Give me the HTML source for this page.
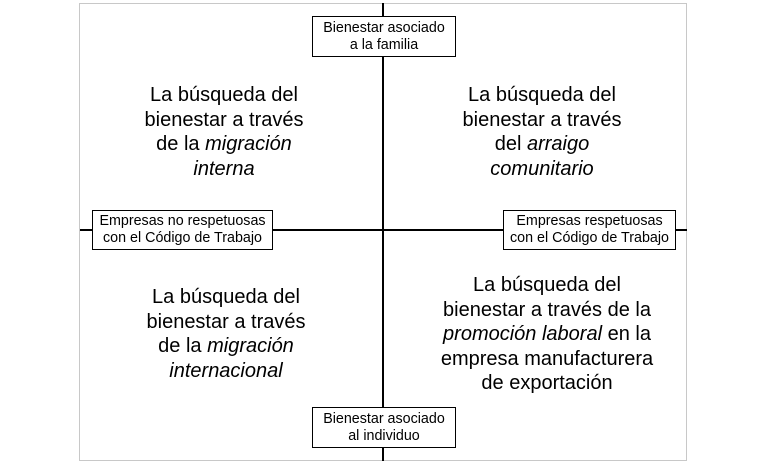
<!DOCTYPE html>
<html><head><meta charset="utf-8"><style>
body{margin:0;width:768px;height:464px;background:#fff;position:relative;overflow:hidden;font-family:"Liberation Sans",Arial,sans-serif;color:#000}
.a{position:absolute}
.box{position:absolute;border:1.5px solid #000;background:#fff;box-sizing:border-box;font-size:14.3px;line-height:17px;text-align:center;display:flex;align-items:center;justify-content:center;white-space:nowrap}
.t{position:absolute;font-size:20px;line-height:24.5px;text-align:center;width:260px;transform:translateX(-50%)}
</style></head><body>
<div class="a" style="left:79px;top:3px;width:608px;height:458px;border:1px solid #c8c8c8;box-sizing:border-box"></div>
<div class="a" style="left:382px;top:3px;width:2px;height:458px;background:#000"></div>
<div class="a" style="left:80px;top:229px;width:607px;height:1.5px;background:#000"></div>
<div class="box" style="left:312px;top:16px;width:144px;height:41px">Bienestar asociado<br>a la familia</div>
<div class="box" style="left:92px;top:210px;width:181px;height:40px">Empresas no respetuosas<br>con el Código de Trabajo</div>
<div class="box" style="left:503px;top:210px;width:173px;height:40px">Empresas respetuosas<br>con el Código de Trabajo</div>
<div class="box" style="left:312px;top:407px;width:144px;height:41px">Bienestar asociado<br>al individuo</div>
<div class="t" style="left:224px;top:83px">La búsqueda del<br>bienestar a través<br>de la <i>migración</i><br><i>interna</i></div>
<div class="t" style="left:542px;top:83px">La búsqueda del<br>bienestar a través<br>del <i>arraigo</i><br><i>comunitario</i></div>
<div class="t" style="left:226px;top:285px">La búsqueda del<br>bienestar a través<br>de la <i>migración</i><br><i>internacional</i></div>
<div class="t" style="left:547px;top:273px">La búsqueda del<br>bienestar a través de la<br><i>promoción laboral</i> en la<br>empresa manufacturera<br>de exportación</div>
</body></html>
